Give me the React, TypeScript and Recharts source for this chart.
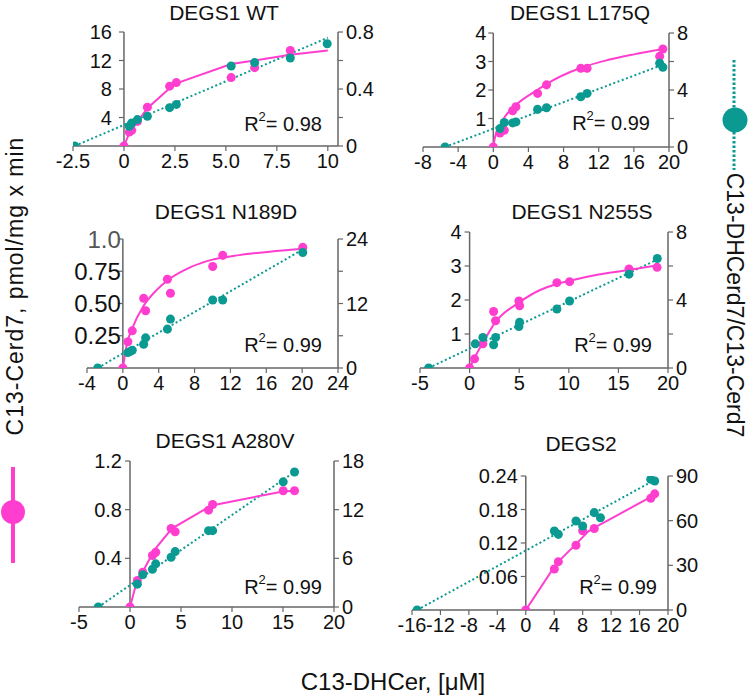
import React from 'react';
import { ComposedChart, Line, Scatter, XAxis, YAxis, ReferenceLine, ReferenceDot } from 'recharts';

// colours picked off the figure
const MAGENTA = '#ff3ecf';
const TEAL = '#0b9a92';
const AXIS = '#666';
const FONT = '"Liberation Sans", Arial, Helvetica, sans-serif';

type Pt = { x: number; y: number };
const zip = (xs: number[], ys: number[]): Pt[] => xs.map((x, i) => ({ x, y: ys[i] }));

// ---- DEGS1 WT ----
const wtConc = [0, 0.26, 0.38, 0.66, 1.15, 2.24, 2.57, 5.26, 6.41, 8.16];
const wtCerd = [0, 1.95, 2.2, 3.45, 5.45, 8.4, 8.9, 9.6, 11.0, 13.4];
const wtRatioX = [-2.42, 0.26, 0.38, 0.66, 1.15, 2.24, 2.57, 5.26, 6.41, 8.16, 9.97];
const wtRatio = [0, 0.138, 0.161, 0.185, 0.208, 0.269, 0.292, 0.561, 0.585, 0.618, 0.718];
const wtFitX = [0, 0.26, 0.66, 1.15, 2.24, 2.57, 5.26, 6.41, 8.16, 10];
const wtFit = [0, 1.8, 3.4, 5.3, 8.1, 8.8, 11.5, 12.0, 12.8, 13.4];
const wtLineX = [-2.42, 10];
const wtLine = [0, 0.76];

// ---- DEGS1 L175Q ----
const lqConc = [0, 0.76, 1.25, 2.2, 2.58, 5.04, 6.06, 9.96, 10.68, 18.94, 19.3];
const lqCerd = [0, 0.49, 0.59, 1.27, 1.41, 1.88, 2.18, 2.76, 2.76, 3.18, 3.44];
const lqRatioX = [-5.49, 0.76, 1.25, 2.2, 2.58, 5.04, 6.06, 9.96, 10.68, 18.94, 19.3];
const lqRatio = [0, 1.29, 1.72, 1.69, 1.76, 2.64, 2.75, 3.53, 3.76, 5.88, 5.6];
const lqFitX = [0, 0.2, 0.76, 1.3, 2.6, 5, 6, 10, 13, 16, 19.4];
const lqFit = [0, 0.35, 0.75, 1.05, 1.48, 2.0, 2.2, 2.78, 3.05, 3.25, 3.44];
const lqLineX = [-5.5, 19.4];
const lqLine = [0, 5.8];

// ---- DEGS1 N189D ----
const ndConc = [0, 0.56, 1.05, 2.32, 2.54, 4.97, 5.31, 10.02, 11.14, 20.07];
const ndCerd = [0, 0.203, 0.288, 0.54, 0.444, 0.688, 0.579, 0.787, 0.873, 0.935];
const ndRatioX = [-2.8, 0.56, 0.8, 1.05, 2.32, 2.54, 4.97, 5.31, 10.02, 11.14, 20.07];
const ndRatio = [0, 2.87, 3.05, 3.3, 4.43, 5.61, 7.23, 9.1, 12.66, 12.66, 21.5];
const ndFitX = [0, 0.5, 1, 2.3, 3.7, 5, 7.5, 10, 13, 16.8, 20.1];
const ndFit = [0, 0.2, 0.3, 0.48, 0.6, 0.68, 0.78, 0.84, 0.875, 0.905, 0.925];
const ndLineX = [-2.8, 20.1];
const ndLine = [0, 22.1];

// ---- DEGS1 N255S ----
const nsConc = [0, 0.5, 1.34, 2.42, 2.62, 4.97, 5.04, 8.8, 10.08, 16.07, 18.9];
const nsCerd = [0, 0.27, 0.71, 1.66, 1.39, 1.97, 1.83, 2.51, 2.54, 2.91, 2.96];
const nsRatioX = [-4.13, 0.57, 1.34, 2.42, 2.62, 4.97, 5.04, 8.8, 10.08, 16.07, 18.92];
const nsRatio = [0, 1.42, 1.8, 1.37, 1.8, 2.44, 2.69, 3.47, 3.94, 5.52, 6.44];
const nsFitX = [0, 0.5, 1.3, 2.6, 5, 7, 8.8, 10, 13, 16, 19];
const nsFit = [0, 0.3, 0.72, 1.35, 1.93, 2.28, 2.47, 2.56, 2.75, 2.88, 3.02];
const nsLineX = [-4.13, 19];
const nsLine = [0, 6.4];

// ---- DEGS1 A280V ----
const avConc = [0, 0.72, 1.25, 2.2, 2.52, 4.03, 4.43, 7.7, 8.1, 15.02, 16.13];
const avCerd = [0, 0.218, 0.286, 0.423, 0.45, 0.646, 0.619, 0.796, 0.843, 0.955, 0.955];
const avRatioX = [-3.11, 0.72, 1.25, 2.2, 2.52, 4.03, 4.43, 7.7, 8.1, 15.02, 16.13];
const avRatio = [0, 2.82, 3.97, 4.66, 5.32, 6.14, 6.83, 9.41, 9.41, 15.43, 16.65];
const avFitX = [0, 0.7, 1.25, 2.4, 4.1, 8, 15, 16.1];
const avFit = [0, 0.22, 0.29, 0.47, 0.645, 0.835, 0.95, 0.955];
const avLineX = [-3.11, 16.13];
const avLine = [0, 16.65];

// ---- DEGS2 ----
const d2Conc = [0, 4.02, 4.58, 7.06, 8.0, 9.63, 17.57, 18.13];
const d2Cerd = [0, 0.0734, 0.0866, 0.116, 0.142, 0.146, 0.2, 0.208];
const d2RatioX = [-15.28, 4.02, 4.58, 7.06, 8.0, 9.63, 10.5, 17.57, 18.13];
const d2Ratio = [0, 53.1, 50.8, 59.8, 56.4, 65.4, 62.0, 87.8, 86.6];
const d2FitX = [0, 4.3, 7.06, 8.8, 9.6, 18.1];
const d2Fit = [0, 0.083, 0.118, 0.141, 0.147, 0.206];
const d2LineX = [-15.28, 18.13];
const d2Line = [0, 87.3];

// chart frame (page px)
const ML = 22;
const MT = 18;
const MR = 5;
const RW = 45;
const XH = 35;

type PanelProps = {
  box: { l: number; t: number; r: number; b: number };
  xDomain: [number, number];
  xTicks: number[];
  xLabels: string[];
  leftMax: number;
  leftTicks: number[];
  leftLabels: string[];
  leftGap?: number;
  leftFont?: number;
  rightMax: number;
  rightTicks: number[];
  rightLabels: string[];
  cerd: Pt[];
  fit: Pt[];
  ratio: Pt[];
  ratioLine: Pt[];
  curve: 'monotone' | 'linear';
};

const pick = (ticks: number[], labels: string[]) => (v: number) => {
  const i = ticks.findIndex((t) => Math.abs(t - v) < 1e-9);
  return i < 0 ? '' : labels[i];
};

const Panel = (p: PanelProps) => {
  const { box } = p;
  const width = ML + (box.r - box.l) + RW + MR;
  const height = MT + (box.b - box.t) + XH;
  const gap = p.leftGap ?? 9;
  const lf = p.leftFont ?? 20;

  return (
    <div style={{ position: 'absolute', left: box.l - ML, top: box.t - MT }}>
      <ComposedChart width={width} height={height} margin={{ top: MT, right: MR, bottom: 0, left: ML }}>
        <XAxis
          type="number"
          dataKey="x"
          domain={p.xDomain}
          ticks={p.xTicks}
          interval={0}
          allowDataOverflow
          height={XH}
          tickSize={5}
          tickMargin={3}
          tickFormatter={pick(p.xTicks, p.xLabels)}
          axisLine={{ stroke: AXIS, strokeWidth: 1.5 }}
          tickLine={{ stroke: AXIS, strokeWidth: 1.2 }}
          tick={{ fill: '#111', fontSize: 20, fontFamily: FONT }}
        />
        <YAxis yAxisId="left" hide domain={[0, p.leftMax]} allowDataOverflow />
        <YAxis
          yAxisId="right"
          orientation="right"
          domain={[0, p.rightMax]}
          ticks={p.rightTicks}
          interval={0}
          allowDataOverflow
          width={RW}
          tickSize={5}
          tickMargin={3}
          tickFormatter={pick(p.rightTicks, p.rightLabels)}
          axisLine={{ stroke: AXIS, strokeWidth: 1.5 }}
          tickLine={{ stroke: AXIS, strokeWidth: 1.2 }}
          tick={{ fill: '#111', fontSize: 20, fontFamily: FONT }}
        />
        {/* left axis sits on x = 0, not at the edge */}
        <ReferenceLine x={0} yAxisId="left" stroke={AXIS} strokeWidth={1.5} />
        {p.leftTicks.map((v, i) => (
          <ReferenceDot
            key={v}
            x={0}
            y={v}
            yAxisId="left"
            r={0}
            ifOverflow="visible"
            shape={(s: any) => (
              <g>
                <line x1={s.cx - 5} y1={s.cy} x2={s.cx} y2={s.cy} stroke={AXIS} strokeWidth={1.2} />
                <text
                  x={s.cx - gap}
                  y={s.cy}
                  textAnchor="end"
                  dominantBaseline="central"
                  fontSize={lf}
                  fontFamily={FONT}
                  fill={p.leftLabels[i] === '1.0' ? '#555' : '#111'}
                >
                  {p.leftLabels[i]}
                </text>
              </g>
            )}
          />
        ))}
        <Line
          data={p.ratioLine}
          dataKey="y"
          yAxisId="right"
          type="linear"
          stroke={TEAL}
          strokeWidth={2}
          strokeDasharray="2 2.5"
          dot={false}
          isAnimationActive={false}
        />
        <Line
          data={p.fit}
          dataKey="y"
          yAxisId="left"
          type={p.curve}
          stroke={MAGENTA}
          strokeWidth={2}
          dot={false}
          isAnimationActive={false}
        />
        <Scatter data={p.cerd} dataKey="y" yAxisId="left" fill={MAGENTA} isAnimationActive={false} />
        <Scatter data={p.ratio} dataKey="y" yAxisId="right" fill={TEAL} isAnimationActive={false} />
      </ComposedChart>
    </div>
  );
};

const R2 = ({ x, y, v }: { x: number; y: number; v: string }) => (
  <text x={x} y={y} textAnchor="end" dominantBaseline="central" fontSize={20} fill="#111">
    R<tspan dy={-8} fontSize={13}>2</tspan>
    <tspan dy={8}>= {v}</tspan>
  </text>
);

export default function App() {
  return (
    <div
      style={{
        position: 'absolute',
        left: 0,
        top: 0,
        width: 750,
        height: 697,
        background: '#fff',
        fontFamily: FONT,
        overflow: 'hidden',
      }}
    >
      <Panel
        box={{ l: 73, t: 32, r: 338, b: 146 }}
        xDomain={[-2.5, 10.5]}
        xTicks={[-2.5, 0, 2.5, 5, 7.5, 10]}
        xLabels={['-2.5', '0', '2.5', '5.0', '7.5', '10']}
        leftMax={16}
        leftTicks={[4, 8, 12, 16]}
        leftLabels={['4', '8', '12', '16']}
        leftGap={12}
        rightMax={0.8}
        rightTicks={[0, 0.2, 0.4, 0.6, 0.8]}
        rightLabels={['0', '', '0.4', '', '0.8']}
        cerd={zip(wtConc, wtCerd)}
        fit={zip(wtFitX, wtFit)}
        ratio={zip(wtRatioX, wtRatio)}
        ratioLine={zip(wtLineX, wtLine)}
        curve="linear"
      />
      <Panel
        box={{ l: 423, t: 33, r: 669, b: 147 }}
        xDomain={[-8, 20]}
        xTicks={[-8, -4, 0, 4, 8, 12, 16, 20]}
        xLabels={['-8', '-4', '0', '4', '8', '12', '16', '20']}
        leftMax={4}
        leftTicks={[1, 2, 3, 4]}
        leftLabels={['1', '2', '3', '4']}
        leftGap={7}
        rightMax={8}
        rightTicks={[0, 2, 4, 6, 8]}
        rightLabels={['0', '', '4', '', '8']}
        cerd={zip(lqConc, lqCerd)}
        fit={zip(lqFitX, lqFit)}
        ratio={zip(lqRatioX, lqRatio)}
        ratioLine={zip(lqLineX, lqLine)}
        curve="monotone"
      />
      <Panel
        box={{ l: 87, t: 239, r: 338, b: 368 }}
        xDomain={[-4, 24]}
        xTicks={[-4, 0, 4, 8, 12, 16, 20, 24]}
        xLabels={['-4', '0', '4', '8', '12', '16', '20', '24']}
        leftMax={1}
        leftTicks={[0.25, 0.5, 0.75, 1]}
        leftLabels={['0.25', '0.50', '0.75', '1.0']}
        leftGap={2}
        leftFont={24}
        rightMax={24}
        rightTicks={[0, 6, 12, 18, 24]}
        rightLabels={['0', '', '12', '', '24']}
        cerd={zip(ndConc, ndCerd)}
        fit={zip(ndFitX, ndFit)}
        ratio={zip(ndRatioX, ndRatio)}
        ratioLine={zip(ndLineX, ndLine)}
        curve="monotone"
      />
      <Panel
        box={{ l: 420, t: 232, r: 668, b: 368 }}
        xDomain={[-5, 20]}
        xTicks={[-5, 0, 5, 10, 15, 20]}
        xLabels={['-5', '0', '5', '10', '15', '20']}
        leftMax={4}
        leftTicks={[1, 2, 3, 4]}
        leftLabels={['1', '2', '3', '4']}
        leftGap={8}
        rightMax={8}
        rightTicks={[0, 2, 4, 6, 8]}
        rightLabels={['0', '', '4', '', '8']}
        cerd={zip(nsConc, nsCerd)}
        fit={zip(nsFitX, nsFit)}
        ratio={zip(nsRatioX, nsRatio)}
        ratioLine={zip(nsLineX, nsLine)}
        curve="monotone"
      />
      <Panel
        box={{ l: 79, t: 461, r: 334, b: 607 }}
        xDomain={[-5, 20]}
        xTicks={[-5, 0, 5, 10, 15, 20]}
        xLabels={['-5', '0', '5', '10', '15', '20']}
        leftMax={1.2}
        leftTicks={[0.4, 0.8, 1.2]}
        leftLabels={['0.4', '0.8', '1.2']}
        leftGap={8}
        rightMax={18}
        rightTicks={[0, 6, 12, 18]}
        rightLabels={['0', '6', '12', '18']}
        cerd={zip(avConc, avCerd)}
        fit={zip(avFitX, avFit)}
        ratio={zip(avRatioX, avRatio)}
        ratioLine={zip(avLineX, avLine)}
        curve="linear"
      />
      <Panel
        box={{ l: 412, t: 476, r: 668, b: 610 }}
        xDomain={[-16, 20]}
        xTicks={[-16, -12, -8, -4, 0, 4, 8, 12, 16, 20]}
        xLabels={['-16', '-12', '-8', '-4', '0', '4', '8', '12', '16', '20']}
        leftMax={0.24}
        leftTicks={[0.06, 0.12, 0.18, 0.24]}
        leftLabels={['0.06', '0.12', '0.18', '0.24']}
        leftGap={8}
        rightMax={90}
        rightTicks={[0, 30, 60, 90]}
        rightLabels={['0', '30', '60', '90']}
        cerd={zip(d2Conc, d2Cerd)}
        fit={zip(d2FitX, d2Fit)}
        ratio={zip(d2RatioX, d2Ratio)}
        ratioLine={zip(d2LineX, d2Line)}
        curve="linear"
      />

      {/* titles, R², shared axis titles and the two legend keys */}
      <svg
        width={750}
        height={697}
        style={{ position: 'absolute', left: 0, top: 0, pointerEvents: 'none' }}
        fontFamily={FONT}
      >
        <g fontSize={21} fill="#111" textAnchor="middle" dominantBaseline="central">
          <text x={224} y={12}>DEGS1 WT</text>
          <text x={580} y={12}>DEGS1 L175Q</text>
          <text x={226} y={211}>DEGS1 N189D</text>
          <text x={582} y={211}>DEGS1 N255S</text>
          <text x={225} y={440}>DEGS1 A280V</text>
          <text x={581} y={443}>DEGS2</text>
        </g>
        <R2 x={322} y={124} v="0.98" />
        <R2 x={650} y={123} v="0.99" />
        <R2 x={322} y={345} v="0.99" />
        <R2 x={652} y={345} v="0.99" />
        <R2 x={322} y={587} v="0.99" />
        <R2 x={657} y={587} v="0.99" />

        <text
          x={15}
          y={286}
          transform="rotate(-90 15 286)"
          textAnchor="middle"
          dominantBaseline="central"
          fontSize={23}
          letterSpacing={1}
          fill="#111"
        >
          C13-Cerd7, pmol/mg x min
        </text>
        <text
          x={735}
          y={305}
          transform="rotate(90 735 305)"
          textAnchor="middle"
          dominantBaseline="central"
          fontSize={23}
          fill="#111"
        >
          C13-DHCerd7/C13-Cerd7
        </text>
        <text x={393} y={681} textAnchor="middle" dominantBaseline="central" fontSize={24} fill="#111">
          C13-DHCer, [μM]
        </text>

        <line x1={13} y1={467} x2={13} y2={563} stroke={MAGENTA} strokeWidth={4} />
        <circle cx={13} cy={512} r={12} fill={MAGENTA} />
        <line x1={734} y1={60} x2={734} y2={170} stroke={TEAL} strokeWidth={3} strokeDasharray="2.5 2" />
        <circle cx={735} cy={120} r={12.5} fill={TEAL} />
      </svg>
    </div>
  );
}
